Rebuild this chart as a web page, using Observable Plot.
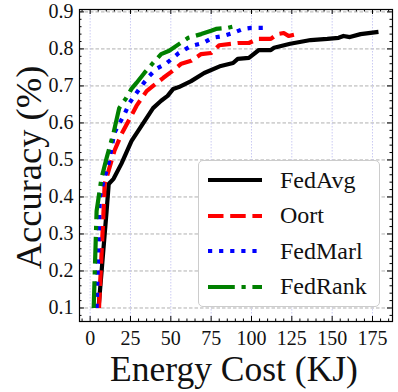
<!DOCTYPE html>
<html>
<head>
<meta charset="utf-8">
<script src="https://cdn.jsdelivr.net/npm/d3@7"></script>
<script src="https://cdn.jsdelivr.net/npm/@observablehq/plot@0.6"></script>
<style>
  body { margin: 0; background: #fff; }
  #wrap { position: relative; width: 398px; height: 392px; font-family: "Liberation Serif", "Times New Roman", serif; }
  #legend { position: absolute; left: 198px; top: 160px; width: 182px; height: 147px; box-sizing: border-box;
            border: 1px solid #cccccc; border-radius: 5px; background: #fff; }
  .row { position: absolute; left: 0; height: 30px; display: flex; align-items: center; }
  .row span { font-size: 24px; color: #111; margin-left: 17px; }
</style>
</head>
<body>
<div id="wrap"></div>
<script>
// ---- data ----
const methods = ["FedAvg", "Oort", "FedMarl", "FedRank"];
const colors = ["#000000", "#ff0000", "#0000ff", "#008000"];
const dashes = [null, "15.5,6.7", "4.2,6.9", "26.8,6.7,4.2,6.7"];

const fedAvgCost = [5.2, 10.2, 11.5, 14.5, 19.4, 25.6, 31.8, 39, 44, 48, 51.5, 55, 62.6, 70.7, 81, 88.6, 91.5, 98.4, 104.6, 112, 114, 124, 136.7, 147, 154, 157, 161, 167.6, 178.7];
const fedAvgAcc  = [0.1, 0.362, 0.435, 0.449, 0.49, 0.551, 0.592, 0.64, 0.66, 0.673, 0.692, 0.697, 0.713, 0.735, 0.754, 0.762, 0.773, 0.776, 0.797, 0.797, 0.803, 0.814, 0.824, 0.827, 0.83, 0.835, 0.832, 0.84, 0.846];

const oortCost = [5.5, 8.3, 9, 15, 19.4, 25.6, 28.7, 35, 39, 45.4, 50.3, 56.5, 62.6, 68.8, 75, 80, 91.5, 98.4, 104, 112, 116, 120, 123, 128];
const oortAcc  = [0.1, 0.362, 0.435, 0.524, 0.57, 0.62, 0.646, 0.686, 0.70, 0.722, 0.738, 0.76, 0.768, 0.786, 0.789, 0.81, 0.816, 0.816, 0.827, 0.827, 0.84, 0.843, 0.835, 0.84];

const fedMarlCost = [4, 6, 8.3, 11.4, 15, 21.3, 24.4, 31.8, 36.7, 41, 47, 55, 62.6, 70, 76, 82.4, 88.6, 94.8, 99.7, 108];
const fedMarlAcc  = [0.1, 0.40, 0.443, 0.49, 0.573, 0.624, 0.654, 0.70, 0.727, 0.746, 0.76, 0.789, 0.808, 0.816, 0.83, 0.835, 0.843, 0.854, 0.857, 0.857];

const fedRankCost = [2.2, 4, 7, 10.2, 14.5, 18, 22.5, 25.6, 28.7, 33.6, 39, 44, 49, 55, 60.8, 68.8, 75, 78, 85.5, 90.4];
const fedRankAcc  = [0.1, 0.362, 0.45, 0.505, 0.573, 0.64, 0.668, 0.692, 0.708, 0.735, 0.762, 0.786, 0.795, 0.813, 0.83, 0.84, 0.849, 0.854, 0.857, 0.862];

const xTicks = [0, 25, 50, 75, 100, 125, 150, 175];
const yTicks = [0.1, 0.2, 0.3, 0.4, 0.5, 0.6, 0.7, 0.8, 0.9];
const yTickLabels = ["0.1", "0.2", "0.3", "0.4", "0.5", "0.6", "0.7", "0.8", "0.9"];
const xLabel = "Energy Cost (KJ)";
const yLabel = "Accuracy (%)";

// ---- build ----
const series = [
  [fedAvgCost, fedAvgAcc],
  [oortCost, oortAcc],
  [fedMarlCost, fedMarlAcc],
  [fedRankCost, fedRankAcc]
].map(([xs, ys], i) => xs.map((x, j) => ({method: methods[i], cost: x, acc: ys[j]})));

const W = 398, H = 392;
const mL = 79, mR = 6, mT = 9, mB = 71;
const fw = W - mL - mR, fh = H - mT - mB;

const xMinor = d3.range(-5, 188, 5).filter(v => !xTicks.includes(v));
const yMinor = d3.range(4, 46).map(i => i / 50).filter(v => !yTicks.some(t => Math.abs(t - v) < 1e-9));

const font = "Liberation Serif, Times New Roman, serif";
const marks = [
  Plot.ruleY(yTicks, {stroke: "#9a9a9a", strokeWidth: 0.8, strokeDasharray: "3.5,2"}),
  Plot.ruleX(xTicks, {stroke: "#c5c5f2", strokeWidth: 0.9, strokeDasharray: "1.5,1.5"})
];
series.forEach((rows, i) => {
  marks.push(Plot.line(rows, {x: "cost", y: "acc", stroke: colors[i], strokeWidth: 4.2,
    strokeDasharray: dashes[i], strokeLinecap: "butt", strokeLinejoin: "round"}));
});
marks.push(
  // inward ticks, all sides
  Plot.ruleX(xTicks, {insetTop: fh - 5, stroke: "#000"}),
  Plot.ruleX(xTicks, {insetBottom: fh - 5, stroke: "#000"}),
  Plot.ruleX(xMinor, {insetTop: fh - 2.5, stroke: "#000"}),
  Plot.ruleX(xMinor, {insetBottom: fh - 2.5, stroke: "#000"}),
  Plot.ruleY(yTicks, {insetRight: fw - 5, stroke: "#000"}),
  Plot.ruleY(yTicks, {insetLeft: fw - 5, stroke: "#000"}),
  Plot.ruleY(yMinor, {insetRight: fw - 2.5, stroke: "#000"}),
  Plot.ruleY(yMinor, {insetLeft: fw - 2.5, stroke: "#000"}),
  Plot.frame({stroke: "#000", strokeWidth: 1.2}),
  Plot.axisX(xTicks, {tickSize: 0, tickPadding: 9, fontSize: 20, fontFamily: font, fill: "#111"}),
  Plot.axisY(yTicks, {tickSize: 0, tickPadding: 6, fontSize: 20, fontFamily: font, fill: "#111",
    tickFormat: (d) => yTickLabels[yTicks.indexOf(d)]}),
  Plot.text([xLabel], {frameAnchor: "bottom", textAnchor: "middle", lineAnchor: "middle",
    dy: 48, dx: -2, fontSize: 35.5, fontFamily: font, fill: "#111"}),
  Plot.text([yLabel], {frameAnchor: "left", textAnchor: "middle", lineAnchor: "middle", rotate: -90,
    dx: -50, dy: 2, fontSize: 36.5, fontFamily: font, fill: "#111"})
);

const chart = Plot.plot({
  width: W, height: H,
  marginLeft: mL, marginRight: mR, marginTop: mT, marginBottom: mB,
  x: {domain: [-6.6, 187.4], label: null},
  y: {domain: [0.0635, 0.9065], label: null},
  style: {background: "#fff", fontFamily: font},
  marks
});

const wrap = document.getElementById("wrap");
wrap.appendChild(chart);

// ---- legend ----
const legend = document.createElement("div");
legend.id = "legend";
methods.forEach((m, i) => {
  const row = document.createElement("div");
  row.className = "row";
  row.style.top = (19 + i * 35.5 - 15) + "px";
  row.style.left = "8px";
  const ns = "http://www.w3.org/2000/svg";
  const svg = document.createElementNS(ns, "svg");
  svg.setAttribute("width", 56); svg.setAttribute("height", 10);
  const ln = document.createElementNS(ns, "line");
  ln.setAttribute("x1", 1); ln.setAttribute("x2", 55);
  ln.setAttribute("y1", 5); ln.setAttribute("y2", 5);
  ln.setAttribute("stroke", colors[i]); ln.setAttribute("stroke-width", 4.2);
  if (dashes[i]) ln.setAttribute("stroke-dasharray", dashes[i]);
  svg.appendChild(ln);
  const sp = document.createElement("span");
  sp.textContent = m;
  row.appendChild(svg); row.appendChild(sp);
  legend.appendChild(row);
});
wrap.appendChild(legend);
</script>
</body>
</html>
